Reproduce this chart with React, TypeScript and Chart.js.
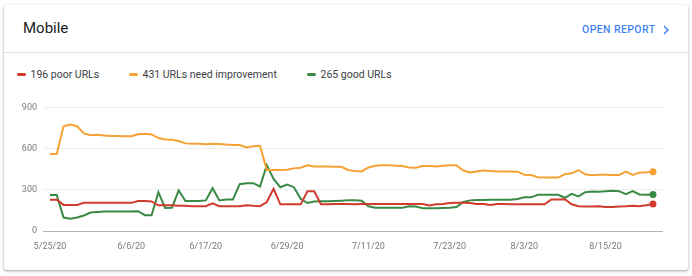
import React, { useEffect, useRef } from 'react';
import { Chart, registerables } from 'chart.js';

Chart.register(...registerables);

const dates = [
  '5/25/20', '5/26/20', '5/27/20', '5/28/20', '5/29/20', '5/30/20', '5/31/20',
  '6/1/20', '6/2/20', '6/3/20', '6/4/20', '6/5/20', '6/6/20', '6/7/20', '6/8/20', '6/9/20', '6/10/20',
  '6/11/20', '6/12/20', '6/13/20', '6/14/20', '6/15/20', '6/16/20', '6/17/20', '6/18/20', '6/19/20', '6/20/20',
  '6/21/20', '6/22/20', '6/23/20', '6/24/20', '6/25/20', '6/26/20', '6/27/20', '6/28/20', '6/29/20', '6/30/20',
  '7/1/20', '7/2/20', '7/3/20', '7/4/20', '7/5/20', '7/6/20', '7/7/20', '7/8/20', '7/9/20', '7/10/20',
  '7/11/20', '7/12/20', '7/13/20', '7/14/20', '7/15/20', '7/16/20', '7/17/20', '7/18/20', '7/19/20', '7/20/20',
  '7/21/20', '7/22/20', '7/23/20', '7/24/20', '7/25/20', '7/26/20', '7/27/20', '7/28/20', '7/29/20', '7/30/20', '7/31/20',
  '8/1/20', '8/2/20', '8/3/20', '8/4/20', '8/5/20', '8/6/20', '8/7/20', '8/8/20', '8/9/20', '8/10/20',
  '8/11/20', '8/12/20', '8/13/20', '8/14/20', '8/15/20', '8/16/20', '8/17/20', '8/18/20', '8/19/20', '8/20/20',
  '8/21/20', '8/22/20',
];

const poorUrls = [
  228, 228, 190, 190, 190, 206, 206, 205, 205, 206,
  206, 205, 205, 218, 218, 215, 187, 187, 187, 184,
  184, 181, 181, 181, 202, 181, 181, 181, 181, 187,
  183, 181, 211, 307, 194, 194, 194, 194, 290, 290,
  194, 194, 197, 197, 196, 195, 197, 197, 197, 197,
  197, 197, 197, 197, 197, 197, 185, 194, 197, 204,
  206, 206, 204, 197, 197, 190, 197, 196, 194, 194,
  194, 194, 194, 194, 230, 230, 232, 195, 180, 178,
  178, 180, 175, 175, 178, 180, 184, 181, 187, 196,
];

const needImprovementUrls = [
  560, 560, 763, 775, 763, 711, 698, 700, 695, 691,
  691, 690, 690, 705, 708, 703, 677, 667, 664, 655,
  638, 636, 636, 631, 636, 634, 629, 626, 626, 608,
  618, 620, 444, 444, 444, 446, 456, 461, 478, 470,
  470, 470, 468, 468, 444, 436, 434, 463, 475, 478,
  478, 475, 473, 463, 461, 473, 473, 470, 475, 478,
  478, 440, 427, 434, 441, 437, 434, 434, 434, 432,
  410, 408, 391, 389, 389, 389, 414, 420, 444, 413,
  406, 410, 410, 408, 408, 432, 408, 425, 427, 431,
];

const goodUrls = [
  262, 262, 98, 89, 98, 113, 134, 139, 142, 142,
  142, 142, 142, 144, 115, 115, 283, 168, 170, 295,
  218, 218, 218, 223, 312, 223, 230, 230, 341, 348,
  348, 324, 480, 379, 319, 338, 319, 235, 204, 214,
  216, 216, 218, 221, 223, 223, 221, 180, 170, 170,
  170, 170, 170, 180, 178, 166, 166, 166, 168, 170,
  175, 211, 223, 226, 226, 228, 228, 228, 228, 233,
  245, 245, 264, 264, 264, 264, 242, 270, 252, 283,
  288, 286, 290, 293, 290, 268, 290, 266, 264, 265,
];

const xTickIndexes = [0, 12, 23, 35, 47, 59, 70, 82];
const yTickValues = [0, 300, 600, 900];

const legendItems = [
  { label: '196 poor URLs', color: '#d03b2e', left: 17 },
  { label: '431 URLs need improvement', color: '#f5a134', left: 129 },
  { label: '265 good URLs', color: '#3a8944', left: 307 },
];

const FONT = 'Roboto, "Noto Sans", sans-serif';

function toPoints(values: number[]) {
  return values.map((v, i) => ({ x: i, y: v }));
}

function lastOnly(n: number, r: number) {
  return (ctx: any) => (ctx.dataIndex === n - 1 ? r : 0);
}

export default function App() {
  const canvasRef = useRef<HTMLCanvasElement | null>(null);

  useEffect(() => {
    if (!canvasRef.current) return;
    const n = dates.length;
    const mk = (label: string, values: number[], color: string) => ({
      label,
      data: toPoints(values),
      borderColor: color,
      backgroundColor: color,
      borderWidth: 2,
      tension: 0,
      pointRadius: lastOnly(n, 3.5),
      pointHoverRadius: 0,
      pointBorderWidth: 0,
      fill: false,
    });
    const chart = new Chart(canvasRef.current, {
      type: 'line',
      data: {
        datasets: [
          mk(legendItems[0].label, poorUrls, legendItems[0].color),
          mk(legendItems[1].label, needImprovementUrls, legendItems[1].color),
          mk(legendItems[2].label, goodUrls, legendItems[2].color),
        ],
      },
      options: {
        animation: false,
        responsive: false,
        devicePixelRatio: 1,
        layout: { padding: { top: 10, bottom: 5, left: 0, right: 30 } },
        plugins: { legend: { display: false }, tooltip: { enabled: false } },
        scales: {
          x: {
            type: 'linear',
            min: -1.03,
            max: 90.33,
            grid: { display: false, drawTicks: false },
            border: { display: true, color: '#b3b3b3', width: 1 },
            afterBuildTicks: (s: any) => {
              s.ticks = xTickIndexes.map((v) => ({ value: v }));
            },
            afterFit: (s: any) => {
              s.height = 30;
            },
            ticks: {
              autoSkip: false,
              maxRotation: 0,
              padding: 10,
              color: '#7a7a7a',
              font: { family: FONT, size: 9 },
              callback: (v: any) => dates[v] ?? '',
            },
          },
          y: {
            min: 0,
            max: 900,
            grid: { color: '#eeeeee', drawTicks: false },
            border: { display: false },
            afterBuildTicks: (s: any) => {
              s.ticks = yTickValues.map((v) => ({ value: v }));
            },
            afterFit: (s: any) => {
              s.width = 43;
            },
            ticks: {
              padding: 6,
              color: '#7a7a7a',
              font: { family: FONT, size: 9 },
              callback: (v: any) => String(v),
            },
          },
        },
      },
    } as any);
    return () => chart.destroy();
  }, []);

  return (
    <div
      style={{
        position: 'fixed',
        left: 0,
        top: 0,
        width: 692,
        height: 276,
        background: '#ffffff',
        fontFamily: FONT,
        overflow: 'hidden',
      }}
    >
      <div
        style={{
          position: 'absolute',
          left: 4,
          top: 5,
          width: 684,
          height: 265,
          background: '#fff',
          borderRadius: 3,
          boxShadow: '0 1px 2px 0 rgba(60,64,67,.3), 0 1px 3px 1px rgba(60,64,67,.15)',
        }}
      />
      <div
        style={{
          position: 'absolute',
          left: 23,
          top: 18,
          fontSize: 15,
          lineHeight: '20px',
          color: '#202124',
          whiteSpace: 'nowrap',
        }}
      >
        Mobile
      </div>
      <div
        style={{
          position: 'absolute',
          left: 582,
          top: 20,
          fontSize: 10.5,
          lineHeight: '20px',
          fontWeight: 500,
          letterSpacing: '0.4px',
          color: '#4285f4',
          whiteSpace: 'nowrap',
        }}
      >
        OPEN REPORT
      </div>
      <svg
        style={{ position: 'absolute', left: 657, top: 21 }}
        width={18}
        height={18}
        viewBox="0 0 24 24"
      >
        <path d="M10 6L8.59 7.41 13.17 12l-4.58 4.59L10 18l6-6z" fill="#4285f4" />
      </svg>
      <div style={{ position: 'absolute', left: 4, top: 52, width: 684, height: 1, background: '#e0e0e0' }} />
      {legendItems.map((it) => (
        <div key={it.label}>
          <div
            style={{
              position: 'absolute',
              left: it.left,
              top: 73,
              width: 9,
              height: 3,
              borderRadius: 1.5,
              background: it.color,
            }}
          />
          <div
            style={{
              position: 'absolute',
              left: it.left + 13.5,
              top: 64.5,
              fontSize: 10.5,
              lineHeight: '20px',
              color: '#3c4043',
              whiteSpace: 'nowrap',
            }}
          >
            {it.label}
          </div>
        </div>
      ))}
      <div style={{ position: 'absolute', left: 0, top: 96, width: 692, height: 170 }}>
        <canvas ref={canvasRef} width={692} height={170} style={{ width: 692, height: 170, display: 'block' }} />
      </div>
    </div>
  );
}
